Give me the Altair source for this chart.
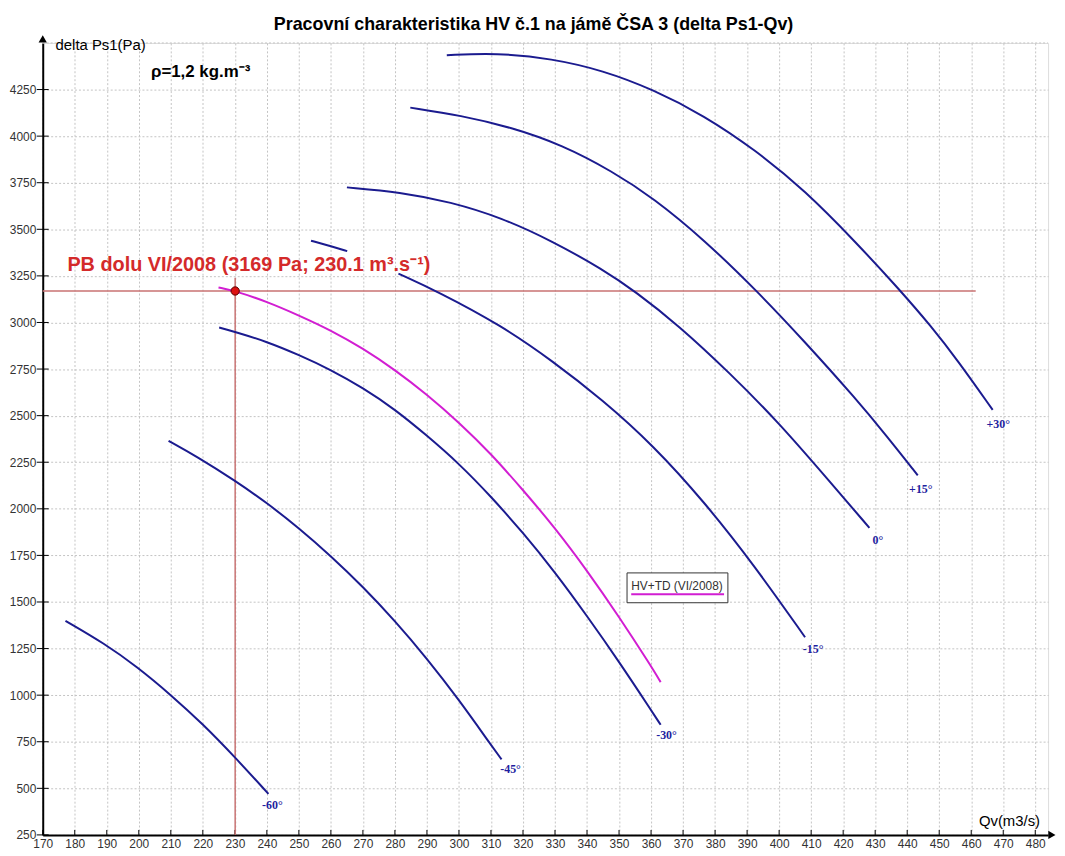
import altair as alt
import pandas as pd

# ---------------- data ----------------
x_ticks = list(range(170, 490, 10))
y_ticks = list(range(250, 4500, 250))

q_m60 = [177.1, 189.2, 199.5, 209.8, 220.0, 230.0, 240.5]
p_m60 = [1399, 1278, 1152, 1005, 845, 668, 470]

q_m45 = [209.3, 217.9, 230.0, 240.0, 250.0, 260.0, 270.0, 280.0, 290.0, 300.0, 310.0, 313.3]
p_m45 = [2365, 2283, 2152, 2032, 1897, 1747, 1582, 1399, 1197, 975, 733, 655]

q_m30 = [225.1, 230.0, 240.0, 250.0, 260.0, 270.0, 280.0, 290.0, 300.0, 310.0, 320.0, 330.0, 340.0, 350.0, 360.0, 363.0]
p_m30 = [2973, 2950, 2897, 2826, 2746, 2649, 2534, 2393, 2243, 2066, 1872, 1660, 1425, 1180, 920, 841]

q_m15a = [253.8, 259.5, 265.1]
p_m15a = [3439, 3412, 3383]
q_m15b = [281.1, 293.5, 313.2, 329.1, 344.9, 360.7, 376.5, 392.3, 408.1]
p_m15b = [3262, 3165, 2984, 2795, 2584, 2340, 2040, 1695, 1311]

q_0 = [265.0, 281.6, 297.4, 313.2, 329.1, 344.9, 355.2, 368.6, 384.4, 400.2, 416.0, 428.2]
p_0 = [3725, 3700, 3647, 3563, 3437, 3285, 3165, 2984, 2732, 2457, 2142, 1898]

q_p15 = [284.8, 300.6, 316.4, 332.2, 348.0, 360.7, 376.5, 393.1, 408.1, 424.0, 433.4, 443.3]
p_p15 = [4153, 4111, 4047, 3953, 3810, 3668, 3445, 3169, 2895, 2590, 2395, 2180]

q_p30 = [296.2, 311.7, 329.1, 344.9, 360.7, 376.5, 392.3, 408.1, 424.0, 437.4, 447.7, 455.6, 466.7]
p_p30 = [4434, 4447, 4416, 4353, 4250, 4111, 3929, 3708, 3430, 3180, 2975, 2800, 2531]

q_td = [224.9, 230.1, 240.0, 250.0, 260.0, 270.0, 280.0, 290.0, 300.0, 310.0, 320.0, 330.0, 340.0, 350.0, 360.0, 363.0]
p_td = [3188, 3169, 3112, 3038, 2958, 2861, 2746, 2614, 2464, 2296, 2101, 1898, 1669, 1421, 1156, 1070]

label_names = ["-60°", "-45°", "-30°", "-15°", "0°", "+15°", "+30°"]
label_q = [238.5, 312.9, 361.6, 407.4, 429.2, 440.6, 464.8]
label_p = [410, 601, 788, 1248, 1833, 2107, 2454]

pb_q = 230.1
pb_p = 3169

# ---------------- styling ----------------
BLUE = "#1b1b8f"
MAGENTA = "#d21ed2"
RED_TXT = "#d42a2a"
RED_LINE = "#c87272"
GRID = "#c4c4c4"
SANS = "Liberation Sans"
SERIF = "Liberation Serif"

W, H = 1013, 798

xs = alt.Scale(domain=[170, 484], nice=False, zero=False)
ys = alt.Scale(domain=[250, 4500], nice=False, zero=False)

xaxis = alt.Axis(values=x_ticks, title=None, grid=True, gridColor=GRID, gridDash=[2, 2],
                 gridWidth=1, domainColor="black", domainWidth=2, tickSize=0, format="d",
                 labelPadding=4, labelFontSize=12, labelFont=SANS, labelColor="#333333",
                 labelFlush=False, labelOverlap=False)
yaxis = alt.Axis(values=y_ticks, title=None, grid=True, gridColor=GRID, gridDash=[2, 2],
                 gridWidth=1, domainColor="black", domainWidth=2, tickSize=0, format="d",
                 labelPadding=7, labelFontSize=12, labelFont=SANS, labelColor="#333333",
                 labelFlush=False, labelOverlap=False)


def X(field="q"):
    return alt.X(f"{field}:Q", scale=xs, axis=xaxis)


def Y(field="p"):
    return alt.Y(f"{field}:Q", scale=ys, axis=yaxis)


# ---------------- tables ----------------
blue_sets = [("m60", q_m60, p_m60), ("m45", q_m45, p_m45), ("m30", q_m30, p_m30),
             ("m15a", q_m15a, p_m15a), ("m15b", q_m15b, p_m15b), ("0", q_0, p_0),
             ("p15", q_p15, p_p15), ("p30", q_p30, p_p30)]
df_blue = pd.concat([pd.DataFrame({"curve": n, "q": q, "p": p}) for n, q, p in blue_sets],
                    ignore_index=True)
df_td = pd.DataFrame({"q": q_td, "p": p_td})
df_lab = pd.DataFrame({"name": label_names, "q": label_q, "p": label_p})
df_xt = pd.DataFrame({"q": x_ticks})
df_yt = pd.DataFrame({"p": y_ticks})

# ---------------- layers ----------------
top_grid = alt.Chart(pd.DataFrame({"p": [4500]})).mark_rule(
    color=GRID, strokeDash=[2, 2], strokeWidth=1).encode(
    y=Y(), x=alt.value(0), x2=alt.value(W))

xticks = alt.Chart(df_xt).mark_rule(color="black", strokeWidth=1).encode(
    x=X(), y=alt.value(H - 5), y2=alt.value(H))
yticks = alt.Chart(df_yt).mark_rule(color="black", strokeWidth=1).encode(
    y=Y(), x=alt.value(-6), x2=alt.value(6))

hline = alt.Chart(pd.DataFrame({"q": [170], "q2": [461.4], "p": [pb_p]})).mark_rule(
    color=RED_LINE, strokeWidth=1.5).encode(x=X(), x2="q2:Q", y=Y())
vline = alt.Chart(pd.DataFrame({"q": [pb_q], "p": [250], "p2": [3240]})).mark_rule(
    color=RED_LINE, strokeWidth=1.5).encode(x=X(), y=Y(), y2="p2:Q")

blue_lines = alt.Chart(df_blue).mark_line(color=BLUE, strokeWidth=2, interpolate="basis").encode(
    x=X(), y=Y(), detail="curve:N")
td_line = alt.Chart(df_td).mark_line(color=MAGENTA, strokeWidth=2, interpolate="basis").encode(
    x=X(), y=Y())

pb_point = alt.Chart(pd.DataFrame({"q": [pb_q], "p": [pb_p]})).mark_point(
    filled=True, fill="#dd1111", stroke="#5a0000", strokeWidth=1, size=70, opacity=1).encode(
    x=X(), y=Y())

labels = alt.Chart(df_lab).mark_text(
    align="left", baseline="middle", font=SERIF, fontWeight="bold", fontSize=12, color="#1f1fa0").encode(
    x=X(), y=Y(), text="name:N")

# legend box
leg_box = alt.Chart(pd.DataFrame({"q": [352.5], "q2": [384.0], "p": [1496], "p2": [1656]})).mark_rect(
    fill="white", stroke="#333333", strokeWidth=1).encode(x=X(), x2="q2:Q", y=Y(), y2="p2:Q")
leg_text = alt.Chart(pd.DataFrame({"q": [353.8], "p": [1562], "t": ["HV+TD (VI/2008)"]})).mark_text(
    align="left", baseline="alphabetic", font=SANS, fontSize=12, color="#333333").encode(
    x=X(), y=Y(), text="t:N")
leg_line = alt.Chart(pd.DataFrame({"q": [353.8], "q2": [382.8], "p": [1541]})).mark_rule(
    color=MAGENTA, strokeWidth=2).encode(x=X(), x2="q2:Q", y=Y())


def txt(t, q, p, size, bold=False, align="left", color="black"):
    return alt.Chart(pd.DataFrame({"q": [q], "p": [p], "t": [t]})).mark_text(
        align=align, baseline="alphabetic", font=SANS, fontSize=size,
        fontWeight="bold" if bold else "normal", color=color).encode(
        x=X(), y=Y(), text="t:N")


title = txt("Pracovní charakteristika HV č.1 na jámě ČSA 3 (delta Ps1-Qv)", 323.3, 4570, 18,
            bold=True, align="center")
ylab = txt("delta Ps1(Pa)", 174.0, 4463, 15)
rho = txt("ρ=1,2 kg.m⁻³", 203.8, 4319, 17, bold=True)
xlab = txt("Qv(m3/s)", 481.5, 298, 15, align="right")
pb_txt = txt("PB dolu VI/2008 (3169 Pa; 230.1 m³.s⁻¹)", 177.7, 3275, 20, bold=True, color=RED_TXT)

arrow_up = alt.Chart(pd.DataFrame({"q": [170], "p": [4522]})).mark_point(
    shape="triangle-up", filled=True, color="black", size=70, opacity=1).encode(x=X(), y=Y())
arrow_right = alt.Chart(pd.DataFrame({"q": [485.2], "p": [250]})).mark_point(
    shape="triangle-right", filled=True, color="black", size=70, opacity=1).encode(x=X(), y=Y())

chart = alt.layer(
    top_grid, xticks, yticks, hline, vline, blue_lines, td_line, pb_point, labels,
    leg_box, leg_text, leg_line, title, ylab, rho, xlab, pb_txt, arrow_up, arrow_right
).properties(
    width=W, height=H,
    autosize=alt.AutoSizeParams(type="none"),
    padding={"left": 35, "top": 32, "right": 9, "bottom": 16},
).configure_view(stroke=None).configure(background="white")

chart.save("out.html", embed_options={"renderer": "svg", "actions": False})
